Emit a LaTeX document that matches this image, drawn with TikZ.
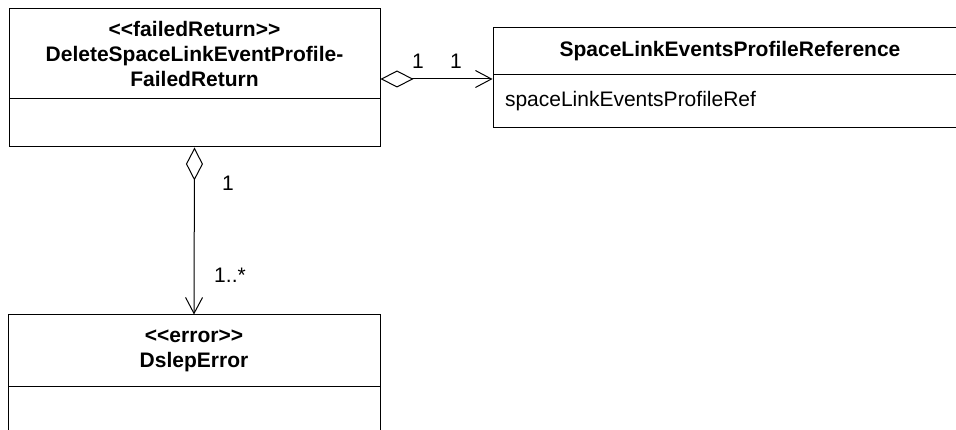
\documentclass[tikz,border=0pt]{standalone}
\usepackage{fontspec}
\setmainfont{Liberation Sans}
\usetikzlibrary{arrows.meta, positioning}

\begin{document}
\begin{tikzpicture}[
  x=1pt, y=-1pt,
  font=\fontsize{21pt}{25pt}\selectfont,
  head/.style={draw, line width=1pt, inner sep=0pt, align=center, font=\fontsize{21pt}{25pt}\selectfont\bfseries},
  body/.style={draw, line width=1pt, inner sep=0pt},
  agg/.style={line width=1pt, {Diamond[open, length=33pt, width=17pt, line width=1pt]}-{Straight Barb[length=16pt, width=17pt, line width=1pt]}},
  mult/.style={inner sep=0pt}
]
  \useasboundingbox (0,0) rectangle (956,430);
  \clip (0,0) rectangle (956,430);

  % classes
  \node[head, minimum width=371pt, minimum height=90pt] (retHead) at (194.5,54) {<{}<failedReturn>{}>\\DeleteSpaceLinkEventProfile-\\FailedReturn};
  \node[body, minimum width=371pt, minimum height=48pt] (retBody) at (194.5,123) {};

  \node[head, minimum width=474pt, minimum height=47pt] (refHead) at (730,51.5) {SpaceLinkEventsProfileReference};
  \node[body, text width=450pt, inner xsep=12pt, minimum height=53pt, align=left] (refBody) at (730,101.5) {spaceLinkEventsProfileRef};

  \node[head, minimum width=372pt, minimum height=71pt] (errHead) at (194,350.5) {<{}<error>{}>\\DslepError};
  \node[body, minimum width=372pt, minimum height=54pt] (errBody) at (194,413) {};

  % associations
  \coordinate (refLink) at (450,79);
  \draw[agg] (retHead.east |- refLink) -- (refBody.west |- refLink);
  \node[mult] (m1) at (418,61) {1};
  \node[mult] (m2) at (456,61) {1};

  \draw[agg] (retBody.south) -- (errHead.north);
  \node[mult] (m3) at (228,183) {1};
  \node[mult] (m4) at (230,275) {1..*};
\end{tikzpicture}
\end{document}
